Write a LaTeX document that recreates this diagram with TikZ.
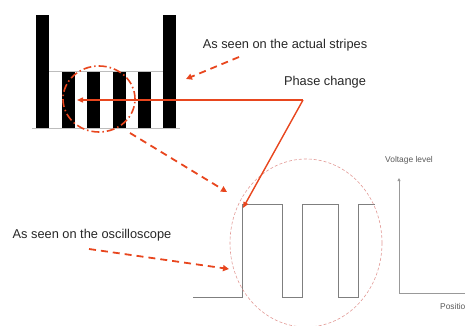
\documentclass[tikz,border=0pt]{standalone}
\usepackage{fontspec}
\setmainfont{Liberation Sans}
\usetikzlibrary{positioning,arrows.meta,shapes.geometric}
\definecolor{stripered}{HTML}{E8461E}
\definecolor{wavegrey}{HTML}{7F7F7F}
\definecolor{ringpink}{HTML}{E29A96}
\definecolor{edgegrey}{HTML}{BDBDBD}

\begin{document}
\begin{tikzpicture}[x=1pt,y=-1pt,
  lbl/.style={font=\fontsize{12.8}{14}\selectfont,text=black!85,inner sep=0pt},
  axlbl/.style={font=\fontsize{8.4}{9}\selectfont,text=black!65,inner sep=0pt},
  phase/.style={draw=stripered,line width=1.4pt,-{Triangle[length=6pt,width=5pt]}},
  hint/.style={draw=stripered,line width=1.8pt,dash pattern=on 7pt off 5pt,-{Triangle[length=6pt,width=6pt]}},
  loupe/.style={draw=stripered,line width=1.6pt,dash pattern=on 8pt off 3pt on 1.5pt off 3pt,ellipse,inner sep=0pt},
  ring/.style={draw=ringpink,line width=0.6pt,dash pattern=on 3pt off 2pt,ellipse,inner sep=0pt},
  wave/.style={draw=wavegrey,line width=0.9pt},
  axis/.style={draw=wavegrey!80,line width=0.9pt}
]
\useasboundingbox (0,0) rectangle (465,326);

% stripes
\fill (36,15) rectangle (49,128);
\fill (163,15) rectangle (176,128);
\foreach \bx in {62,87,113,138}
  \fill (\bx,71) rectangle ++(12.5,57);
\draw[edgegrey,line width=0.6pt] (49,71) -- (163,71);
\draw[edgegrey,line width=0.6pt] (32,128) -- (180,128);
\node[loupe,minimum width=72pt,minimum height=66pt] (loupe) at (99,99) {};

% labels
\node[lbl] (stripeslbl) at (285,45) {As seen on the actual stripes};
\node[lbl] (phaselbl) at (325,82) {Phase change};
\node[lbl] (scopelbl) at (92,235) {As seen on the oscilloscope};
\node[axlbl] (voltlbl) at (409,160) {Voltage level};
\node[axlbl,anchor=west] (poslbl) at (440,306) {Position};

% square wave
\draw[wave] (193,297) -| (242,204) -| (282,297) -| (302,204) -| (338,297) -| (358,204) -- (375,204);
\node[ring,minimum width=152pt,minimum height=168pt] (ring) at (306,243) {};

% axes
\coordinate (origin) at (399,293);
\coordinate (ytop) at (399,178);
\coordinate (xend) at (470,293);
\draw[axis,-{Triangle[length=3pt,width=3pt]}] (origin) -- (ytop);
\draw[axis] (origin) -- (xend);

% arrows
\coordinate (bend) at (303,100);
\coordinate (stripeedge) at (77,100);
\coordinate (waveedge) at (243,208);
\draw[phase] (bend) -- (stripeedge);
\draw[phase] (bend) -- (waveedge);

\coordinate (stripesfrom) at (239,57);
\coordinate (stripesto) at (186,79);
\draw[hint] (stripesfrom) -- (stripesto);

\coordinate (loupefrom) at (130,133);
\coordinate (ringto) at (227,192);
\draw[hint] (loupefrom) -- (ringto);

\coordinate (scopefrom) at (89,249);
\coordinate (scopeto) at (229,269);
\draw[hint] (scopefrom) -- (scopeto);
\end{tikzpicture}
\end{document}
